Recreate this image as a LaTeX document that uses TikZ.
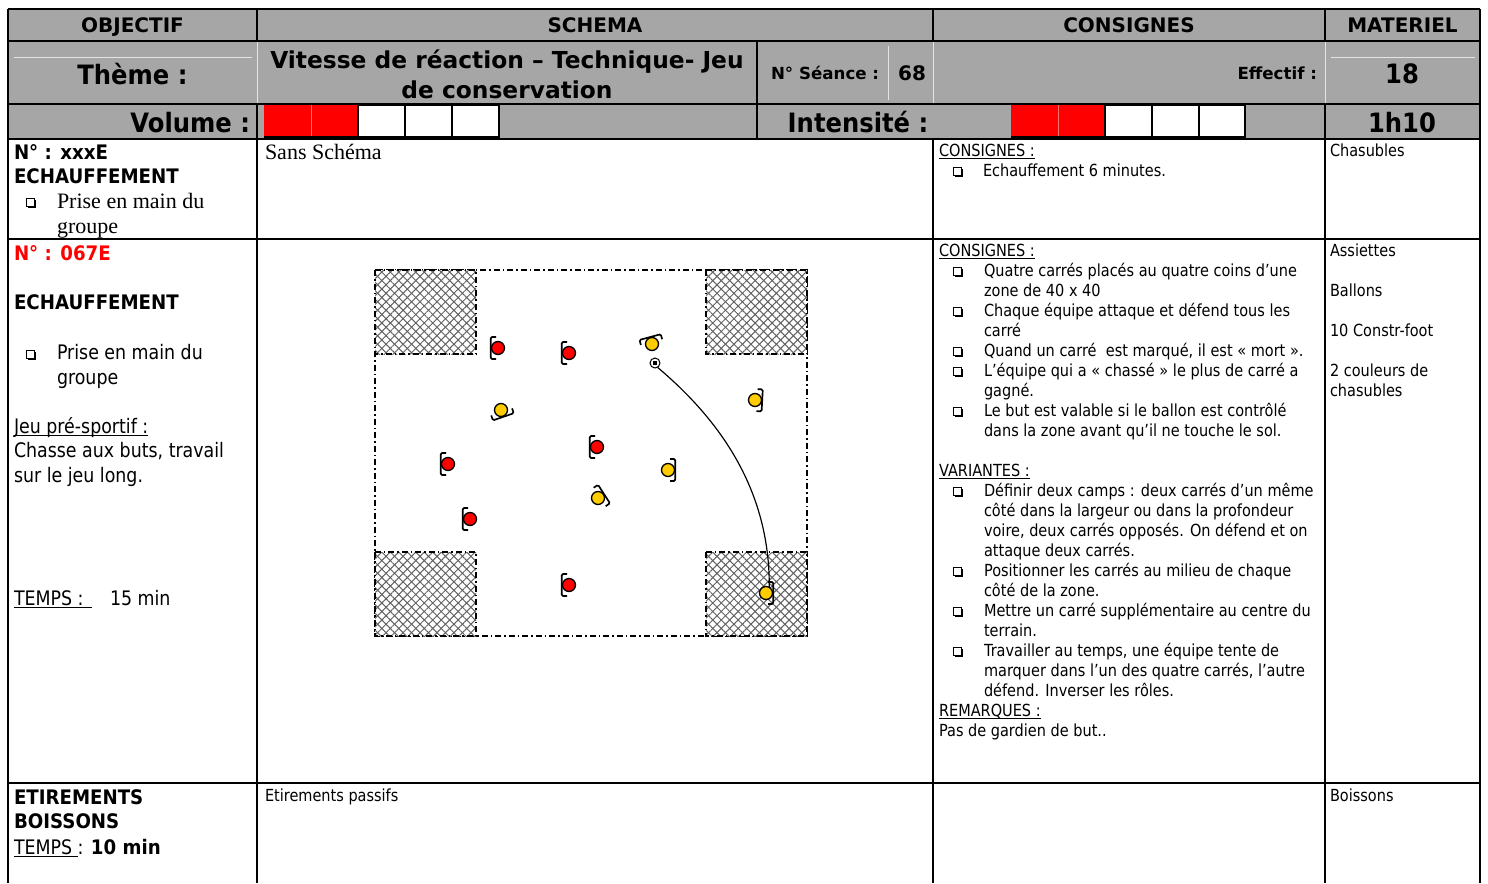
\documentclass[tikz,border=0pt]{standalone}
\usepackage{fontspec}
\setmainfont{DejaVu Sans}[FakeStretch=0.87,BoldFeatures={FakeStretch=0.91}]
\newfontfamily\larges{DejaVu Sans}[FakeStretch=1.0]
\newfontfamily\timesfont{Liberation Serif}
\usetikzlibrary{patterns.meta}
\newsavebox\soulbox
\newcommand\souligne[1]{\sbox\soulbox{#1}\rlap{\rule[-1.8pt]{\wd\soulbox}{0.55pt}}\usebox\soulbox}
\definecolor{entete}{RGB}{166,166,166}
\definecolor{rouge}{RGB}{255,0,0}
\definecolor{jaune}{RGB}{255,204,0}
\tikzset{
 every node/.style={inner sep=0pt,outer sep=0pt},
 grille/.style={line width=0.9pt,black},
 pale/.style={line width=0.6pt,white!70!entete},
 t10/.style={anchor=base west,font=\fontsize{10}{12}\selectfont},
 b10/.style={anchor=base west,font=\fontsize{10}{12}\selectfont\larges\bfseries},
 t12/.style={anchor=base west,font=\fontsize{12}{14}\selectfont},
 b12/.style={anchor=base west,font=\fontsize{12}{14}\selectfont\bfseries},
 h12/.style={anchor=base,font=\fontsize{12}{14}\selectfont\larges\bfseries},
 h14/.style={anchor=base,font=\fontsize{14}{17}\selectfont\larges\bfseries},
 h16/.style={anchor=base,font=\fontsize{16}{19}\selectfont\bfseries},
 serif/.style={anchor=base west,font=\fontsize{13.2}{15}\selectfont\timesfont},
 case/.style={line width=0.7pt,black,fill=white},
 joueur/.style={circle,draw=black,line width=0.8pt,minimum size=7.8pt},
 epaules/.style={line width=1pt,black,rounded corners=0.8pt},
 ballon/.style={circle,draw=black,line width=0.6pt,fill=white,minimum size=6pt},
 trajet/.style={line width=0.7pt,black},
 pointille/.style={line width=0.75pt,black,dash pattern=on 3.6pt off 1.8pt on 0.9pt off 1.8pt},
 hachure/.style={pattern={Lines[angle=#1,distance=3.6pt,line width=0.6pt]},pattern color=black!62},
}
\newcommand\puce[2]{\draw[line width=0.5pt] (#1-4,#2-4) rectangle (#1+4,#2+4);
 \fill (#1+4,#2-2.5) rectangle (#1+6,#2+6);
 \fill (#1-2.5,#2+4) rectangle (#1+6,#2+6);}
\newcommand\joueur[5]{\node[joueur,fill=#4] (#1) at (#2,#3) {};
 \begin{scope}[shift={(#2,#3)},rotate=#5]
 \draw[epaules] (2,-11) -- (7.2,-11) -- (7.2,11) -- (2,11);
 \end{scope}}
\begin{document}
\begin{tikzpicture}[x=0.6pt,y=-0.6pt]
\useasboundingbox (0,0) rectangle (1488,883);
\fill[white] (0,0) rectangle (1488,883);
% header background
\fill[entete] (8,9) rectangle (1480,139);
% faint inner lines
\draw[pale] (14,57) -- (252,57);
\draw[pale] (1331,57) -- (1475,57);
\draw[pale] (888,46) -- (888,100);
\draw[pale] (257,41) -- (257,104);
\draw[pale] (933,41) -- (933,104);
\draw[pale] (1325,41) -- (1325,104);
% grid
\draw[grille] (8,9) -- (1480,9);
\draw[grille] (8,41) -- (1480,41);
\draw[grille] (8,104) -- (1480,104);
\draw[grille] (8,139) -- (1480,139);
\draw[grille] (8,239) -- (1480,239);
\draw[grille] (8,783) -- (1480,783);
\draw[grille] (8,9) -- (8,883);
\draw[grille] (1480,9) -- (1480,883);
\draw[grille] (257,9) -- (257,41);
\draw[grille] (257,104) -- (257,883);
\draw[grille] (933,9) -- (933,41);
\draw[grille] (933,139) -- (933,883);
\draw[grille] (757,41) -- (757,139);
\draw[grille] (1325,9) -- (1325,41);
\draw[grille] (1325,104) -- (1325,883);
% volume bar
\fill[rouge] (264,105) rectangle (358,137);
\draw[line width=0.4pt,red!55!white] (311,105) -- (311,137);
\draw[case] (358,105) rectangle (405,137);
\draw[case] (405,105) rectangle (452,137);
\draw[case] (452,105) rectangle (499,137);
\draw[line width=0.7pt] (264,137) -- (358,137);
% intensity bar
\fill[rouge] (1011,105) rectangle (1105,137);
\draw[line width=0.4pt,red!55!white] (1058,105) -- (1058,137);
\draw[case] (1105,105) rectangle (1152,137);
\draw[case] (1152,105) rectangle (1199,137);
\draw[case] (1199,105) rectangle (1245,137);
\draw[line width=0.7pt] (1011,137) -- (1105,137);
% header texts
\node[h12] (hobj) at (132.5,32) {OBJECTIF};
\node[h12] (hsch) at (595,32) {SCHEMA};
\node[h12] (hcon) at (1129,32) {CONSIGNES};
\node[h12] (hmat) at (1402.5,32) {MATERIEL};
\node[h16] (theme) at (132.5,84) {Thème :};
\node[h14] (tit1) at (507,68) {Vitesse de réaction – Technique- Jeu};
\node[h14] (tit2) at (507,98) {de conservation};
\node[b10] (seance) at (771,79) {N° Séance :};
\node[h12] (num) at (912,80) {68};
\node[b10,anchor=base east] (eff) at (1317,79) {Effectif :};
\node[h16] (effn) at (1402,83) {18};
\node[h16,anchor=base east] (vol) at (250,132) {Volume :};
\node[h16] (int) at (858,132) {Intensité :};
\node[h16] (duree) at (1402,132) {1h10};
% row 4
\node[b12] (n1) at (14,159) {N° : xxxE};
\node[b12] (e1) at (14,183) {ECHAUFFEMENT};
\puce{30}{202}
\node[serif] (p1a) at (57,208) {Prise en main du};
\node[serif] (p1b) at (57,233) {groupe};
\node[serif] (ss) at (265,159) {Sans Schéma};
\node[t10] (cons1) at (939,156) {\souligne{CONSIGNES :}};
\puce{957}{171}
\node[t10] (ech) at (983,176) {Echauffement 6 minutes.};
\node[t10] (chas) at (1330,156) {Chasubles};
% row 5 left
\node[b12,text=rouge] (n2) at (14,260) {N° : 067E};
\node[b12] (e2) at (14,309) {ECHAUFFEMENT};
\puce{30}{354}
\node[t12] (p2a) at (57,359) {Prise en main du};
\node[t12] (p2b) at (57,384) {groupe};
\node[t12] (jeu) at (14,433) {\souligne{Jeu pré-sportif :}};
\node[t12] (ch1) at (14,457) {Chasse aux buts, travail};
\node[t12] (ch2) at (14,482) {sur le jeu long.};
\node[t12] (tps) at (14,605) {\souligne{TEMPS :\hspace{5pt}}};
\node[t12] (tpsv) at (110,605) {15 min};
% row 5 consignes
\node[t10] (cons2) at (939,256) {\souligne{CONSIGNES :}};
\puce{957}{271}
\node[t10] (c1) at (984,276) {Quatre carrés placés au quatre coins d’une};
\node[t10] (c2) at (984,296) {zone de 40 x 40};
\puce{957}{311}
\node[t10] (c3) at (984,316) {Chaque équipe attaque et défend tous les};
\node[t10] (c4) at (984,336) {carré};
\puce{957}{351}
\node[t10] (c5) at (984,356) {Quand un carré\ \ est marqué, il est « mort ».};
\puce{957}{371}
\node[t10] (c6) at (984,376) {L’équipe qui a « chassé » le plus de carré a};
\node[t10] (c7) at (984,396) {gagné.};
\puce{957}{411}
\node[t10] (c8) at (984,416) {Le but est valable si le ballon est contrôlé};
\node[t10] (c9) at (984,436) {dans la zone avant qu’il ne touche le sol.};
\node[t10] (var) at (939,476) {\souligne{VARIANTES :}};
\puce{957}{491}
\node[t10] (v1) at (984,496) {Définir deux camps : deux carrés d’un même};
\node[t10] (v2) at (984,516) {côté dans la largeur ou dans la profondeur};
\node[t10] (v3) at (984,536) {voire, deux carrés opposés. On défend et on};
\node[t10] (v4) at (984,556) {attaque deux carrés.};
\puce{957}{571}
\node[t10] (v5) at (984,576) {Positionner les carrés au milieu de chaque};
\node[t10] (v6) at (984,596) {côté de la zone.};
\puce{957}{611}
\node[t10] (v7) at (984,616) {Mettre un carré supplémentaire au centre du};
\node[t10] (v8) at (984,636) {terrain.};
\puce{957}{651}
\node[t10] (v9) at (984,656) {Travailler au temps, une équipe tente de};
\node[t10] (v10) at (984,676) {marquer dans l’un des quatre carrés, l’autre};
\node[t10] (v11) at (984,696) {défend. Inverser les rôles.};
\node[t10] (rem) at (939,716) {\souligne{REMARQUES :}};
\node[t10] (rem1) at (939,736) {Pas de gardien de but..};
% row 5 materiel
\node[t10] (m1) at (1330,256) {Assiettes};
\node[t10] (m2) at (1330,296) {Ballons};
\node[t10] (m3) at (1330,336) {10 Constr-foot};
\node[t10] (m4) at (1330,376) {2 couleurs de};
\node[t10] (m5) at (1330,396) {chasubles};
% row 6
\node[b12] (et) at (14,804) {ETIREMENTS};
\node[b12] (bo) at (14,828) {BOISSONS};
\node[t12] (tps2) at (14,854) {\souligne{TEMPS\ }: \textbf{10 min}};
\node[t10] (etp) at (265,801) {Etirements passifs};
\node[t10] (boi) at (1330,801) {Boissons};
% schema: field
\draw[pointille] (375,270) rectangle (807,636);
\foreach \xa/\ya in {375/270,706/270,375/552,706/552}{
  \fill[white] (\xa,\ya) rectangle (\xa+101,\ya+84);
  \fill[hachure=45] (\xa,\ya) rectangle (\xa+101,\ya+84);
  \fill[hachure=-45] (\xa,\ya) rectangle (\xa+101,\ya+84);
  \draw[pointille] (\xa,\ya) rectangle (\xa+101,\ya+84);
}
% players
\joueur{r1}{498}{348}{rouge}{180}
\joueur{r2}{569}{353}{rouge}{180}
\joueur{r3}{448}{464}{rouge}{180}
\joueur{r4}{470}{519}{rouge}{180}
\joueur{r5}{597}{447}{rouge}{180}
\joueur{r6}{569}{585}{rouge}{180}
\joueur{y1}{652}{344}{jaune}{105}
\joueur{y2}{501}{410}{jaune}{-71}
\joueur{y3}{755}{400}{jaune}{-3}
\joueur{y4}{668}{470}{jaune}{0}
\joueur{y5}{598}{498}{jaune}{33}
\joueur{y6}{766}{593}{jaune}{0}
% ball and path
\node[ballon] (ball) at (655,363) {};
\fill (653.2,361.2) rectangle (656.8,364.8);
\draw[trajet] (ball.300) .. controls (720,420) and (770,490) .. (y6.60);
\end{tikzpicture}
\end{document}
